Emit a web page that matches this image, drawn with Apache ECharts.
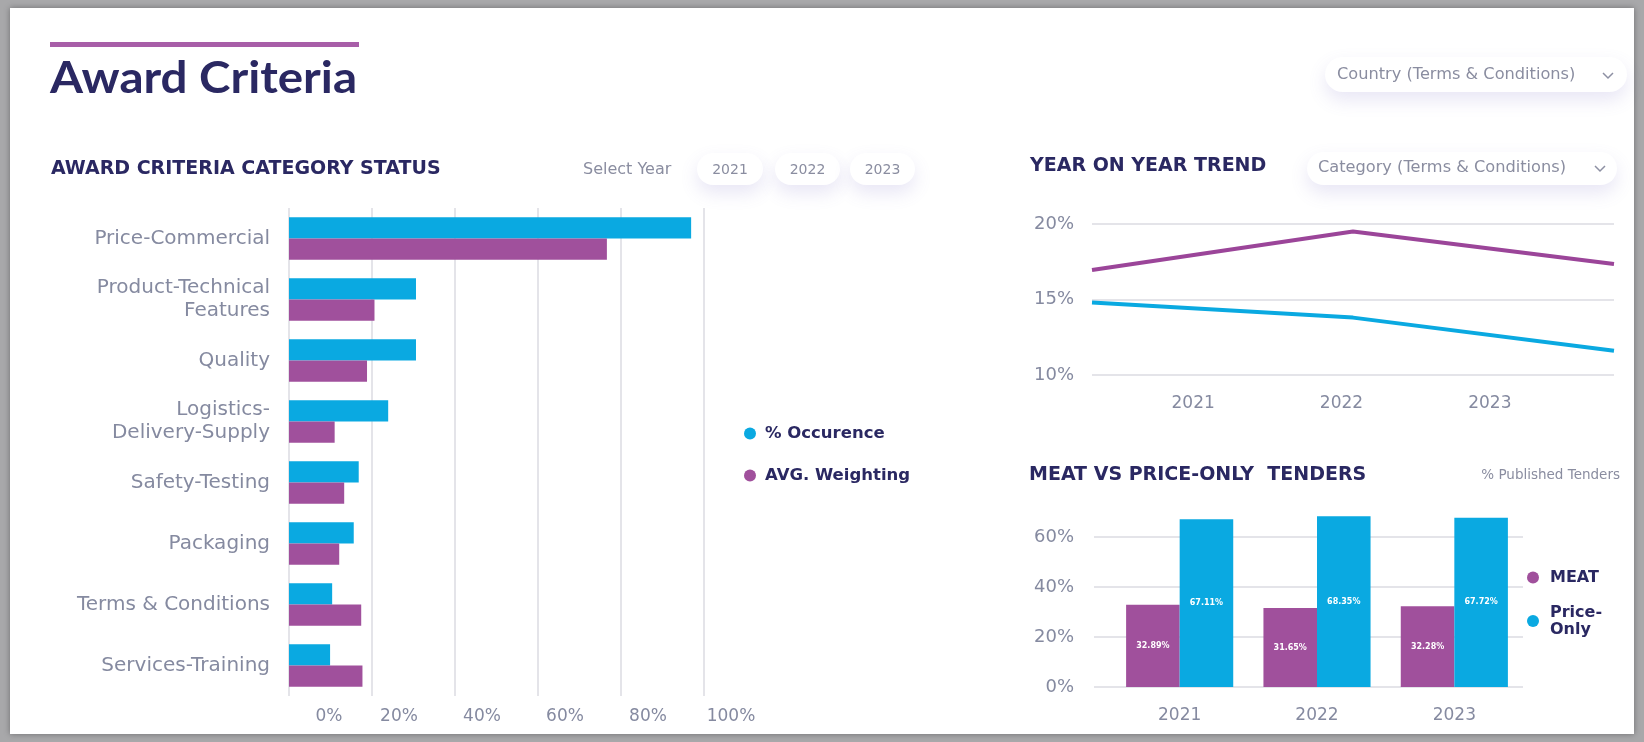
<!DOCTYPE html>
<html>
<head>
<meta charset="utf-8">
<script src="https://cdn.jsdelivr.net/npm/echarts@6/dist/echarts.min.js"></script>
<style>
  html, body { margin: 0; padding: 0; width: 1644px; height: 742px; overflow: hidden; background: #a8a8aa; }
  #panel { position: absolute; left: 10px; top: 8px; right: 10px; bottom: 8px; background: #fff; box-shadow: 0 0 6px rgba(0,0,0,0.35); }
  #main { position: absolute; left: 0; top: 0; width: 1644px; height: 742px; }
</style>
</head>
<body>
<div id="panel"></div>
<div id="main"></div>
<script>
// award criteria category status (values in %)
var categories = ['Price-Commercial', 'Product-Technical\nFeatures', 'Quality', 'Logistics-\nDelivery-Supply',
    'Safety-Testing', 'Packaging', 'Terms & Conditions', 'Services-Training'];
var occurence = [96.9, 30.6, 30.6, 23.9, 16.8, 15.6, 10.4, 9.9];
var weighting = [76.6, 20.6, 18.8, 11.0, 13.3, 12.1, 17.4, 17.7];

// year on year trend (Terms & Conditions)
var trendYears = ['2021', '2022', '2023'];
var trendWeighting = [16.95, 19.5, 17.35];
var trendOccurence = [14.8, 13.8, 11.6];

// meat vs price-only tenders
var tenderYears = ['2021', '2022', '2023'];
var meatShare = [32.89, 31.65, 32.28];
var priceOnlyShare = [67.11, 68.35, 67.72];

var selectYears = ['2021', '2022', '2023'];

var CYAN = '#0aa9e1';
var PURPLE = '#a0509c';
var NAVY = '#2a2862';
var GREY = '#858aa0';
var GRID_LINE = '#e4e4e9';
var FONT = '"DejaVu Sans"';

var chart = echarts.init(document.getElementById('main'));

function label(size) {
    return {color: GREY, fontSize: size || 17, fontFamily: 'DejaVu Sans'};
}

function pill(x, y, w, h) {
    return {
        type: 'rect',
        shape: {x: x, y: y, width: w, height: h, r: h / 2},
        style: {fill: '#fff', shadowBlur: 18, shadowOffsetY: 8, shadowColor: 'rgba(110,100,190,0.16)'},
        z: 1
    };
}

function txt(x, y, text, font, fill, align, sx) {
    return {
        type: 'text',
        x: x, y: y, scaleX: sx || 1,
        style: {x: 0, y: 0, text: text, font: font, fill: fill, textAlign: align || 'left', textVerticalAlign: 'middle'},
        z: 2
    };
}

function chevron(cx, cy) {
    return {
        type: 'polyline',
        shape: {points: [[cx - 5, cy - 2], [cx, cy + 3], [cx + 5, cy - 2]]},
        style: {stroke: '#8d90a3', lineWidth: 1.5, fill: null},
        z: 2
    };
}

var graphics = [
    {type: 'rect', shape: {x: 50, y: 42, width: 309, height: 5}, style: {fill: '#a85ea8'}},
    txt(50, 79, 'Award Criteria', 'bold 44px Lato', NAVY, 'left', 1.08),
    pill(1325, 57, 302, 35),
    txt(1337, 75, 'Country (Terms & Conditions)', '16.2px ' + FONT, '#8a8da0'),
    chevron(1608, 75),
    txt(51, 169, 'AWARD CRITERIA CATEGORY STATUS', 'bold 19px ' + FONT, NAVY),
    txt(583, 170, 'Select Year', '16px ' + FONT, '#8a8da0'),
    txt(1030, 166, 'YEAR ON YEAR TREND', 'bold 19px ' + FONT, NAVY),
    pill(1307, 152, 310, 33),
    txt(1318, 168, 'Category (Terms & Conditions)', '16.2px ' + FONT, '#8a8da0'),
    chevron(1600, 168),
    txt(1029, 475, 'MEAT VS PRICE-ONLY  TENDERS', 'bold 19px ' + FONT, NAVY),
    txt(1620, 475, '% Published Tenders', '13.5px ' + FONT, '#8a8da0', 'right')
];
var pillX = [697, 775, 850];
var pillW = [66, 65, 65];
selectYears.forEach(function (y, i) {
    graphics.push(pill(pillX[i], 153, pillW[i], 32));
    graphics.push(txt(pillX[i] + pillW[i] / 2, 170, y, '14px ' + FONT, '#8a8da0', 'center'));
});

var option = {
    animation: false,
    textStyle: {fontFamily: 'DejaVu Sans'},
    graphic: graphics,
    legend: [{
        data: ['% Occurence', 'AVG. Weighting'],
        orient: 'vertical',
        left: 739, top: 420,
        icon: 'circle',
        itemWidth: 12, itemHeight: 12, itemGap: 25,
        textStyle: {color: NAVY, fontWeight: 'bold', fontSize: 16.5, padding: [0, 0, 0, 4]}
    }, {
        data: ['MEAT', 'Price-Only'],
        orient: 'vertical',
        left: 1522, top: 564,
        icon: 'circle',
        itemWidth: 12, itemHeight: 12, itemGap: 18,
        formatter: function (n) { return n.replace('-', '-\n'); },
        textStyle: {color: NAVY, fontWeight: 'bold', fontSize: 16, lineHeight: 17, padding: [0, 0, 0, 6]}
    }],
    grid: [
        {left: 289, width: 415, top: 208, height: 488},
        {left: 1092, width: 522, top: 224, height: 151},
        {left: 1119, width: 445, top: 224, height: 151},
        {left: 1094, width: 429, top: 537, height: 150},
        {left: 1111, width: 412, top: 537, height: 150}
    ],
    xAxis: [{
        gridIndex: 0, type: 'value', min: 0, max: 100, interval: 20,
        axisLabel: Object.assign(label(17), {
            margin: 12, padding: [0, 0, 0, 54],
            formatter: function (v) { return v === 0 ? '{z|0%}' : v + '%'; },
            rich: {z: {padding: [0, 0, 0, 26], fontSize: 17, color: GREY, fontFamily: 'DejaVu Sans'}}
        }),
        axisLine: {show: false}, axisTick: {show: false},
        splitLine: {lineStyle: {color: GRID_LINE, width: 2}}
    }, {
        gridIndex: 1, type: 'category', data: trendYears, boundaryGap: false, show: false
    }, {
        gridIndex: 2, type: 'category', data: trendYears,
        axisLabel: Object.assign(label(17), {margin: 20}),
        axisLine: {show: false}, axisTick: {show: false}
    }, {
        gridIndex: 3, type: 'category', data: tenderYears, show: false
    }, {
        gridIndex: 4, type: 'category', data: tenderYears,
        axisLabel: Object.assign(label(17), {margin: 20}),
        axisLine: {show: false}, axisTick: {show: false}
    }],
    yAxis: [{
        gridIndex: 0, type: 'category', data: categories, inverse: true,
        axisLabel: Object.assign(label(20), {margin: 19, lineHeight: 23}),
        axisLine: {show: false}, axisTick: {show: false}
    }, {
        gridIndex: 1, type: 'value', min: 10, max: 20, interval: 5,
        axisLabel: Object.assign(label(18), {formatter: '{value}%', margin: 18}),
        axisLine: {show: false}, axisTick: {show: false},
        splitLine: {lineStyle: {color: GRID_LINE, width: 2}}
    }, {
        gridIndex: 2, type: 'value', show: false
    }, {
        gridIndex: 3, type: 'value', min: 0, max: 60, interval: 20,
        axisLabel: Object.assign(label(18), {formatter: '{value}%', margin: 20}),
        axisLine: {show: false}, axisTick: {show: false},
        splitLine: {lineStyle: {color: GRID_LINE, width: 2}}
    }, {
        gridIndex: 4, type: 'value', min: 0, max: 60, interval: 20, show: false
    }],
    series: [{
        name: '% Occurence', type: 'bar', xAxisIndex: 0, yAxisIndex: 0,
        data: occurence, itemStyle: {color: CYAN},
        barGap: '0%', barCategoryGap: '30%'
    }, {
        name: 'AVG. Weighting', type: 'bar', xAxisIndex: 0, yAxisIndex: 0,
        data: weighting, itemStyle: {color: PURPLE}
    }, {
        name: 'Weighting trend', type: 'line', xAxisIndex: 1, yAxisIndex: 1,
        data: trendWeighting, symbol: 'none',
        lineStyle: {color: '#9b4599', width: 4}
    }, {
        name: 'Occurence trend', type: 'line', xAxisIndex: 1, yAxisIndex: 1,
        data: trendOccurence, symbol: 'none',
        lineStyle: {color: CYAN, width: 4}
    }, {
        name: 'MEAT', type: 'bar', xAxisIndex: 4, yAxisIndex: 4,
        data: meatShare, itemStyle: {color: PURPLE}, clip: false,
        barGap: '0%', barCategoryGap: '22%',
        label: {show: true, position: 'inside', formatter: '{c}%', color: '#fff', fontSize: 8, fontWeight: 'bold'}
    }, {
        name: 'Price-Only', type: 'bar', xAxisIndex: 4, yAxisIndex: 4,
        data: priceOnlyShare, itemStyle: {color: CYAN}, clip: false,
        label: {show: true, position: 'inside', formatter: '{c}%', color: '#fff', fontSize: 8, fontWeight: 'bold'}
    }]
};

chart.setOption(option);
</script>
</body>
</html>
